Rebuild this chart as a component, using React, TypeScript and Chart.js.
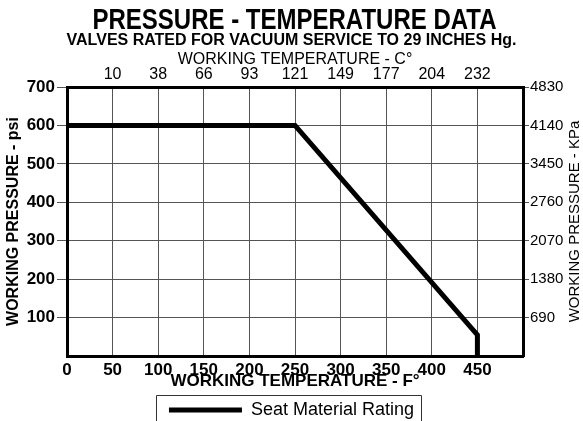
import React, { useEffect, useRef } from 'react';
import { Chart, registerables } from 'chart.js';

Chart.register(...registerables);

const chartTitle = 'PRESSURE - TEMPERATURE DATA';
const chartSubtitle = 'VALVES RATED FOR VACUUM SERVICE TO 29 INCHES Hg.';
const fahrenheitTitle = 'WORKING TEMPERATURE - F°';
const celsiusTitle = 'WORKING TEMPERATURE - C°';
const psiTitle = 'WORKING PRESSURE - psi';
const kpaTitle = 'WORKING PRESSURE - KPa';
const seriesLabel = 'Seat Material Rating';

const fahrenheitTicks = [0, 50, 100, 150, 200, 250, 300, 350, 400, 450];
const celsiusTickPositions = [50, 100, 150, 200, 250, 300, 350, 400, 450];
const celsiusLabels = ['10', '38', '66', '93', '121', '149', '177', '204', '232'];
const psiTicks = [100, 200, 300, 400, 500, 600, 700];
const kpaLabels = ['690', '1380', '2070', '2760', '3450', '4140', '4830'];

const seatTemperaturesF = [0, 250, 450, 450];
const seatPressuresPsi = [600, 600, 55, 0];

const SANS = "'Liberation Sans', Arial, Helvetica, sans-serif";

const decorations = {
  id: 'decorations',
  afterDraw(chart: any) {
    const { ctx } = chart;
    // condensed main title
    ctx.save();
    ctx.fillStyle = '#000';
    ctx.font = `bold 30px ${SANS}`;
    ctx.textAlign = 'center';
    ctx.textBaseline = 'middle';
    ctx.translate(chart.width / 2 + 3, 21);
    ctx.scale(0.8, 1);
    ctx.fillText(chartTitle, 0, 0);
    ctx.restore();

    // legend frame
    const lg = chart.legend;
    if (lg && lg.legendHitBoxes && lg.legendHitBoxes.length) {
      const hb = lg.legendHitBoxes[0];
      const l = Math.round(hb.left - 13) + 0.5;
      const r = Math.round(hb.left + hb.width + 7) + 0.5;
      const t = Math.round(lg.top) + 0.5;
      ctx.save();
      ctx.strokeStyle = '#333';
      ctx.lineWidth = 1;
      ctx.beginPath();
      ctx.moveTo(l, chart.height + 2);
      ctx.lineTo(l, t);
      ctx.lineTo(r, t);
      ctx.lineTo(r, chart.height + 2);
      ctx.stroke();
      ctx.restore();
    }

    // right axis title, reading bottom to top
    const y2 = chart.scales.y2;
    ctx.save();
    ctx.fillStyle = '#000';
    ctx.font = `15px ${SANS}`;
    ctx.textAlign = 'center';
    ctx.textBaseline = 'middle';
    ctx.translate(y2.right - 8, (y2.top + y2.bottom) / 2);
    ctx.rotate(-Math.PI / 2);
    ctx.fillText(kpaTitle, 0, 0);
    ctx.restore();
  },
};

export default function App() {
  const ref = useRef<HTMLCanvasElement | null>(null);

  useEffect(() => {
    if (!ref.current) return;
    Chart.defaults.font.family = SANS;
    Chart.defaults.color = '#000';
    const border = { display: true, color: '#000', width: 3 };
    const chart = new Chart(ref.current, {
      type: 'line',
      data: {
        datasets: [
          {
            label: seriesLabel,
            data: seatTemperaturesF.map((x, i) => ({ x, y: seatPressuresPsi[i] })),
            borderColor: '#000',
            backgroundColor: '#000',
            borderWidth: 5,
            pointRadius: 0,
            fill: false,
            tension: 0,
            xAxisID: 'x',
            yAxisID: 'y',
          },
        ],
      },
      options: {
        animation: false,
        responsive: false,
        layout: { padding: { top: 33, left: 0, right: 0, bottom: -8 } },
        plugins: {
          title: { display: false },
          subtitle: {
            display: true,
            text: chartSubtitle,
            color: '#000',
            font: { family: SANS, size: 16, weight: 'bold', lineHeight: 1 },
            padding: { top: 0, bottom: 0 },
          },
          legend: {
            display: true,
            position: 'bottom',
            labels: {
              boxWidth: 73,
              boxHeight: 5,
              padding: 6,
              color: '#000',
              font: { size: 18 },
              generateLabels: () => [
                {
                  text: seriesLabel,
                  fillStyle: '#000',
                  strokeStyle: '#000',
                  lineWidth: 0,
                  hidden: false,
                  datasetIndex: 0,
                },
              ],
            },
          },
          tooltip: { enabled: false },
        },
        scales: {
          x: {
            type: 'linear',
            position: 'bottom',
            min: 0,
            max: 500,
            afterBuildTicks: (s: any) => {
              s.ticks = fahrenheitTicks.map((v) => ({ value: v }));
            },
            ticks: {
              color: '#000',
              font: { size: 17, weight: 'bold' },
              padding: 4,
              autoSkip: false,
              maxRotation: 0,
            },
            grid: { color: '#555', lineWidth: 1, drawTicks: false },
            border,
            title: {
              display: true,
              text: fahrenheitTitle,
              color: '#000',
              font: { size: 17, weight: 'bold' },
              padding: { top: 0, bottom: 3 },
            },
            afterFit: (s: any) => {
              s.height = 39;
            },
          },
          x2: {
            type: 'linear',
            position: 'top',
            min: 0,
            max: 500,
            afterBuildTicks: (s: any) => {
              s.ticks = celsiusTickPositions.map((v) => ({ value: v }));
            },
            ticks: {
              color: '#000',
              font: { size: 16 },
              padding: 3,
              autoSkip: false,
              maxRotation: 0,
              callback: (v: any) => celsiusLabels[celsiusTickPositions.indexOf(Number(v))],
            },
            grid: { display: false, drawTicks: false },
            border,
            title: {
              display: true,
              text: celsiusTitle,
              color: '#000',
              font: { size: 16 },
              padding: { top: 1, bottom: 0 },
            },
            afterFit: (s: any) => {
              s.height = 38;
            },
          },
          y: {
            position: 'left',
            min: 0,
            max: 700,
            afterBuildTicks: (s: any) => {
              s.ticks = psiTicks.map((v) => ({ value: v }));
            },
            ticks: {
              color: '#000',
              font: { size: 17, weight: 'bold' },
              padding: 2,
            },
            grid: { color: '#555', lineWidth: 1, tickLength: 10 },
            border,
            title: {
              display: true,
              text: psiTitle,
              color: '#000',
              font: { size: 16, weight: 'bold' },
              padding: { top: 4, bottom: 0 },
            },
            afterFit: (s: any) => {
              s.width = 67;
            },
          },
          y2: {
            position: 'right',
            min: 0,
            max: 700,
            afterBuildTicks: (s: any) => {
              s.ticks = psiTicks.map((v) => ({ value: v }));
            },
            ticks: {
              color: '#000',
              font: { size: 15 },
              padding: 1,
              callback: (v: any) => kpaLabels[psiTicks.indexOf(Number(v))],
            },
            grid: { color: '#555', lineWidth: 1, tickLength: 6, drawOnChartArea: false },
            border,
            afterFit: (s: any) => {
              s.width = 60;
            },
          },
        },
      } as any,
      plugins: [decorations],
    });
    return () => chart.destroy();
  }, []);

  return (
    <div style={{ position: 'absolute', left: 0, top: 0, width: 583, height: 421, background: '#fff' }}>
      <canvas ref={ref} width={583} height={421} style={{ display: 'block' }} />
    </div>
  );
}
